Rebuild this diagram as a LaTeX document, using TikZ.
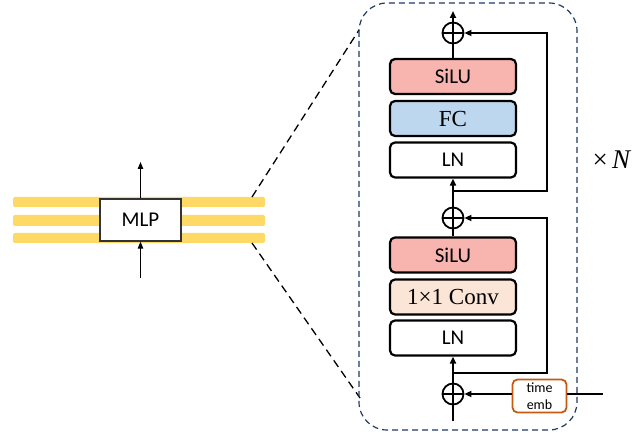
\documentclass[tikz,border=0pt]{standalone}
\usepackage{fontspec}
\newfontfamily\calib{Carlito}
\newfontfamily\serifb{Liberation Serif}
\usetikzlibrary{arrows.meta,calc}
\definecolor{silu}{HTML}{F8B4AE}
\definecolor{fcc}{HTML}{BDD7EE}
\definecolor{conv}{HTML}{FBE5D6}
\definecolor{emb}{HTML}{C55A11}
\definecolor{band}{HTML}{FFD966}
\definecolor{navy}{HTML}{203864}
\begin{document}
\begin{tikzpicture}[x=1pt,y=-1pt,
 blk/.style={draw,line width=2.2pt,rounded corners=5pt,minimum width=126pt,minimum height=35pt,inner sep=0pt},
 sans/.style={font=\calib\fontsize{21}{24}\selectfont},
 serif/.style={font=\serifb\fontsize{23}{26}\selectfont},
 addnode/.style={circle,draw,line width=1.8pt,minimum size=21pt,inner sep=0pt,
   path picture={\draw[line width=1.8pt] (path picture bounding box.north)--(path picture bounding box.south) (path picture bounding box.west)--(path picture bounding box.east);}},
 arr/.style={line width=1.8pt,-{Triangle[length=7pt,width=6pt]}},
 thinarr/.style={line width=1pt,-{Triangle[length=7pt,width=5.5pt]}},
 ln/.style={line width=1.8pt},
 zoomline/.style={line width=1.3pt,dash pattern=on 8pt off 5pt}]
\useasboundingbox (0,0) rectangle (641,433);

% left side bands
\fill[band,rounded corners=2pt] (13,197) rectangle (265,207);
\fill[band,rounded corners=2pt] (13,215) rectangle (265,226);
\fill[band,rounded corners=2pt] (13,233) rectangle (265,243);
\node[draw=black!80,line width=1.2pt,fill=white,minimum width=81pt,minimum height=42pt,inner sep=0pt,sans] (mlp) at (140.5,220) {MLP};
\coordinate (mlpout) at (140.5,162);
\coordinate (mlpin) at (140.5,278);
\draw[thinarr] (mlp.north) -- (mlpout);
\draw[thinarr] (mlpin) -- (mlp.south);

% zoom lines
\coordinate (z1a) at (252,197);
\coordinate (z1b) at (359,30);
\coordinate (z2a) at (252,243);
\coordinate (z2b) at (360,398);
\draw[zoomline] (z1a) -- (z1b);
\draw[zoomline] (z2a) -- (z2b);

% dashed container
\draw[navy,line width=1.2pt,dash pattern=on 6pt off 4pt,rounded corners=28pt] (359,3) rectangle (577,430);

% blocks
\node[blk,fill=silu,sans] (silu2) at (453,76.5) {SiLU};
\node[blk,fill=fcc,serif] (fc) at (453,118.5) {FC};
\node[blk,fill=white,sans] (ln2) at (453,160) {LN};
\node[blk,fill=silu,sans] (silu1) at (453,255) {SiLU};
\node[blk,fill=conv,serif] (conv) at (453,297) {1×1 Conv};
\node[blk,fill=white,sans] (ln1) at (453,338) {LN};

% adders
\node[addnode] (p3) at (453,33) {};
\node[addnode] (p2) at (453,218) {};
\node[addnode] (p1) at (453,394) {};

% time embedding
\node[draw=emb,line width=1.8pt,rounded corners=5pt,minimum width=54pt,minimum height=33pt,inner sep=0pt,align=center,font=\calib\fontsize{14}{17}\selectfont] (emb) at (539.5,396) {time\\emb};
\coordinate (embend) at (603,394);
\coordinate (in) at (453,421);
\coordinate (out) at (453,11);

% connectors
\draw[ln] (in) -- (p1.south);
\draw[arr] (p1.north) -- (ln1.south);
\draw[ln] (silu1.north) -- (p2.south);
\draw[arr] (p2.north) -- (ln2.south);
\draw[ln] (silu2.north) -- (p3.south);
\draw[arr] (p3.north) -- (out);

\coordinate (s1a) at (453,373);
\coordinate (s1b) at (547,373);
\coordinate (s1c) at (547,218);
\draw[arr] (s1a) -- (s1b) -- (s1c) -- (p2.east);
\coordinate (s2a) at (453,191);
\coordinate (s2b) at (547,191);
\coordinate (s2c) at (547,33);
\draw[arr] (s2a) -- (s2b) -- (s2c) -- (p3.east);

\draw[arr] (emb.west |- p1.east) -- (p1.east);
\draw[ln] (emb.east |- embend) -- (embend);

\node[font=\serifb\fontsize{27}{30}\selectfont,inner sep=0pt] (times) at (612,160) {×\,\textit{N}};
\end{tikzpicture}
\end{document}
